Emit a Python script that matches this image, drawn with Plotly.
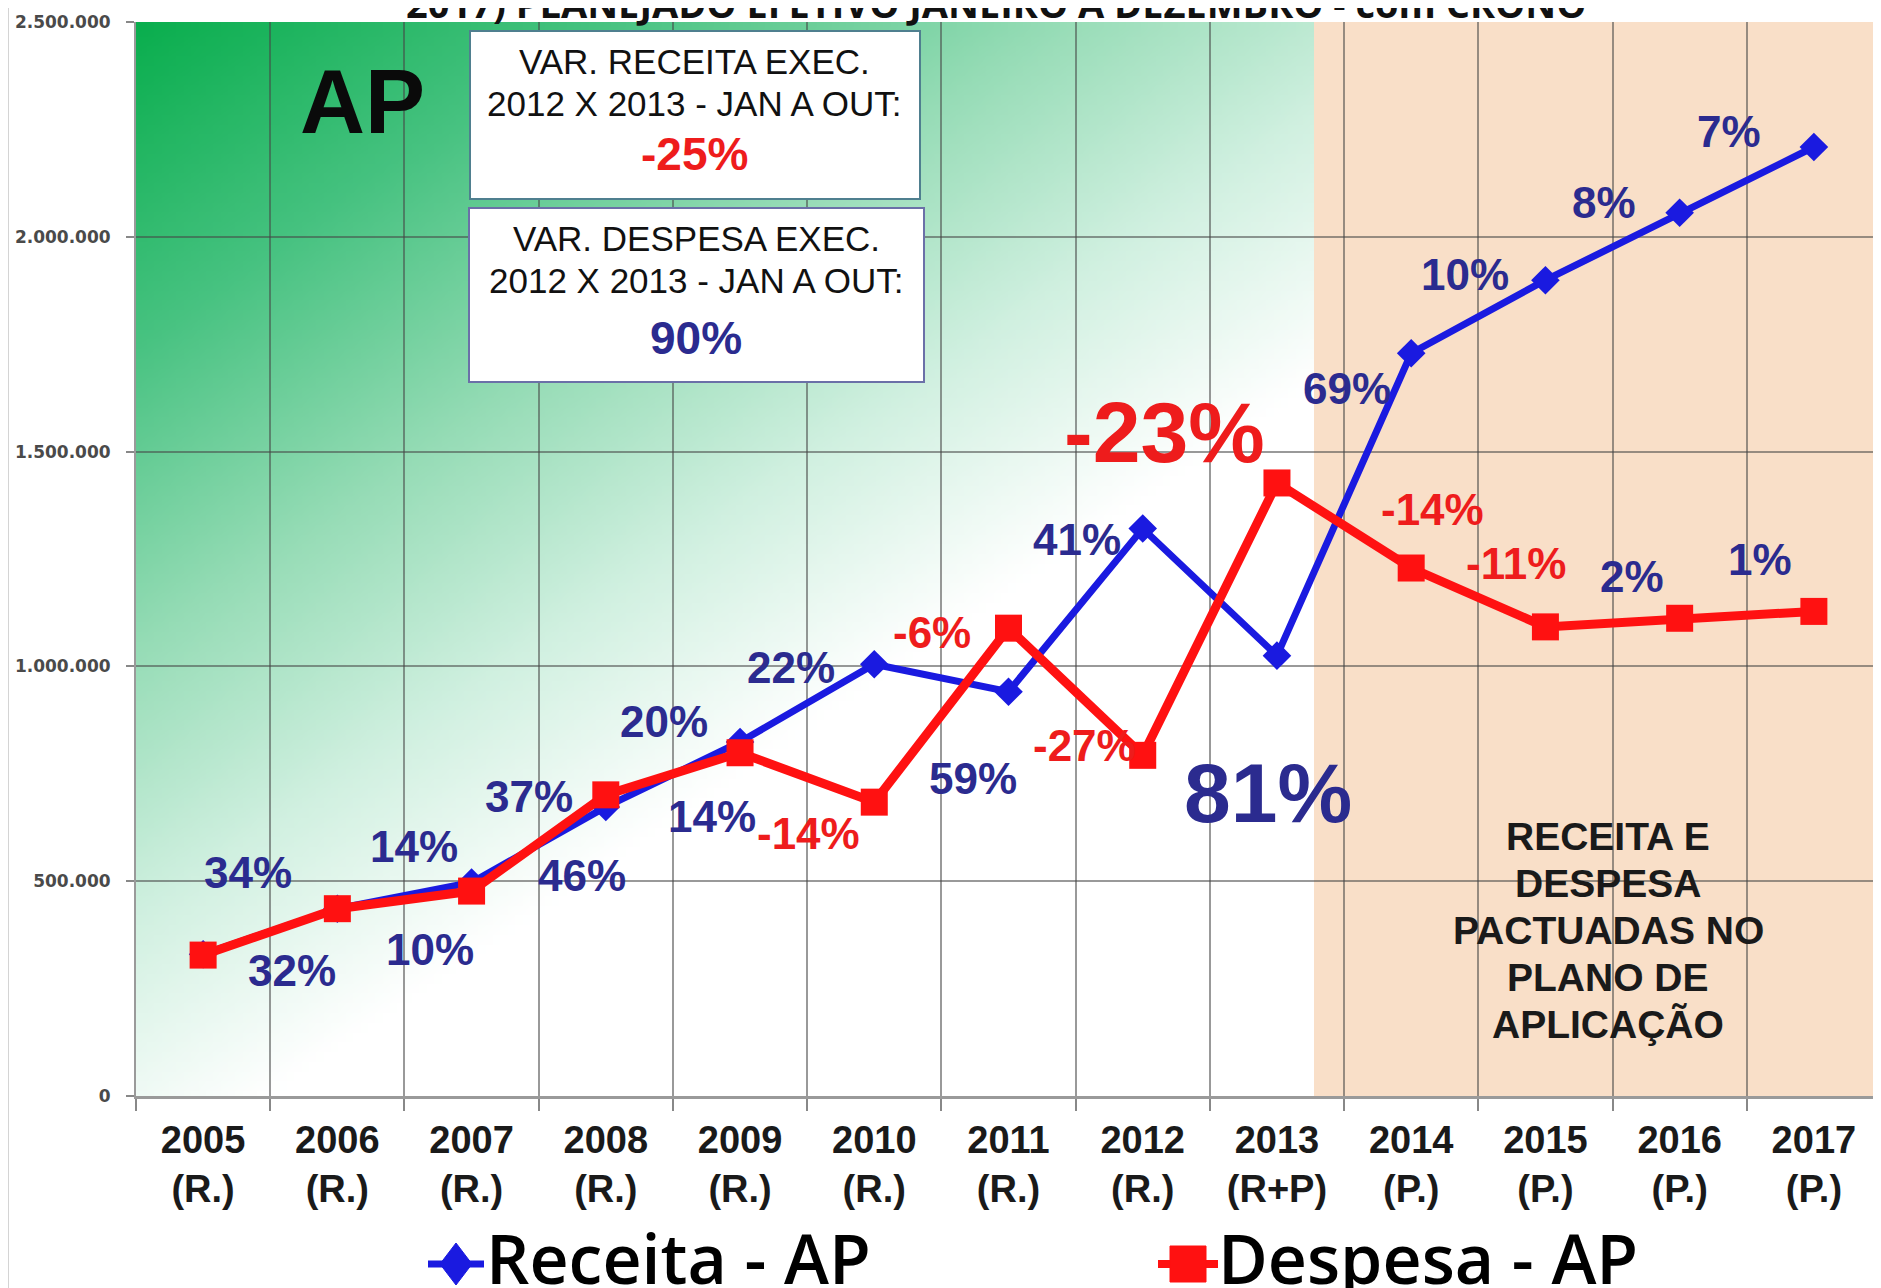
import zlib, struct, base64
import plotly.graph_objects as go

# ---------------- data ----------------
anos = ["2005", "2006", "2007", "2008", "2009", "2010", "2011", "2012", "2013", "2014", "2015", "2016", "2017"]
tipo = ["(R.)", "(R.)", "(R.)", "(R.)", "(R.)", "(R.)", "(R.)", "(R.)", "(R+P)", "(P.)", "(P.)", "(P.)", "(P.)"]
receita = [330000, 436000, 497000, 673000, 824000, 1005000, 941000, 1321000, 1025000, 1729000, 1899000, 2056000, 2209000]
despesa = [328000, 436000, 477000, 701000, 799000, 684000, 1089000, 793000, 1427000, 1229000, 1092000, 1112000, 1128000]
y_ticks = [0, 500000, 1000000, 1500000, 2000000, 2500000]
y_ticktext = ["0", "500.000", "1.000.000", "1.500.000", "2.000.000", "2.500.000"]

var_labels = ["34%", "32%", "14%", "10%", "37%", "46%", "20%", "14%", "22%", "-14%", "-6%", "59%",
              "41%", "-27%", "-23%", "81%", "69%", "-14%", "10%", "-11%", "8%", "2%", "7%", "1%"]

titulo = "2017) PLANEJADO EFETIVO JANEIRO A DEZEMBRO - com CRONO"
box1_lines = ["VAR. RECEITA EXEC.", "2012 X 2013 - JAN A OUT:", "-25%"]
box2_lines = ["VAR. DESPESA EXEC.", "2012 X 2013 - JAN A OUT:", "90%"]
nota_plano = ["RECEITA E", "DESPESA", "PACTUADAS NO", "PLANO DE", "APLICAÇÃO"]
leg_names = ["Receita - AP", "Despesa - AP"]

# ---------------- styling / layout helpers ----------------
# the page body has an 8px margin; the figure is sized so its plot area lands at
# page pixels x 136..1881, y 22..1096
OFF = 8
W, H = 1881 - OFF, 1288 - OFF
L, R_, T, B = 136 - OFF, 0, 22 - OFF, 192
PW, PH = W - L - R_, H - T - B
X0, Y1 = 136, 22 + PH


def px(xp):  # page pixel -> paper
    return (xp - X0) / PW


def py(yp):
    return (Y1 - yp) / PH


BLUE = "#1a1ae0"
RED = "#ff1111"
NAVY = "#2b2b8f"
LRED = "#ee1c1c"

# label positions (page pixels), colours, sizes  -- styling only
lab_pos = [(248, 872), (292, 970), (414, 847), (430, 949), (529, 796), (582, 875), (664, 721),
           (712, 816), (791, 667), (808, 833), (932, 632), (973, 778), (1077, 539), (1084, 745),
           (1164, 432), (1268, 793), (1347, 388), (1432, 510), (1465, 275), (1516, 563),
           (1604, 202), (1632, 577), (1729, 132), (1760, 559)]
lab_col = [NAVY, NAVY, NAVY, NAVY, NAVY, NAVY, NAVY, NAVY, NAVY, LRED, LRED, NAVY,
           NAVY, LRED, LRED, NAVY, NAVY, LRED, NAVY, LRED, NAVY, NAVY, NAVY, NAVY]
lab_size = [44] * 24
lab_size[14] = 86
lab_size[15] = 84


# ---------------- gradient background image ----------------
def make_png(w, h, fn):
    raw = bytearray()
    for j in range(h):
        raw.append(0)
        for i in range(w):
            raw.extend(fn(i / (w - 1), j / (h - 1)))

    def chunk(t, d):
        c = struct.pack(">I", len(d)) + t + d
        return c + struct.pack(">I", zlib.crc32(t + d) & 0xffffffff)

    png = (b"\x89PNG\r\n\x1a\n" + chunk(b"IHDR", struct.pack(">IIBBBBB", w, h, 8, 2, 0, 0, 0))
           + chunk(b"IDAT", zlib.compress(bytes(raw), 9)) + chunk(b"IEND", b""))
    return "data:image/png;base64," + base64.b64encode(png).decode()


stops = [(0.0, (10, 174, 78)), (0.35, (70, 194, 128)), (0.7, (150, 220, 182)),
         (1.0, (208, 240, 224)), (1.3, (255, 255, 255))]


def grad(u, v):
    t = 0.9 * u + 1.2 * v
    if t >= stops[-1][0]:
        return bytes(stops[-1][1])
    for (t0, c0), (t1, c1) in zip(stops[:-1], stops[1:]):
        if t0 <= t <= t1:
            f = (t - t0) / (t1 - t0)
            return bytes(int(round(a + (b - a) * f)) for a, b in zip(c0, c1))
    return bytes(stops[0][1])


img = make_png(160, 110, grad)

# ---------------- figure ----------------
cats = [f"{a}<br>{t}" for a, t in zip(anos, tipo)]

fig = go.Figure()
fig.add_trace(go.Scatter(x=cats, y=receita, mode="lines+markers", name=leg_names[0],
                         line=dict(color=BLUE, width=7),
                         marker=dict(symbol="diamond", size=22, color=BLUE)))
fig.add_trace(go.Scatter(x=cats, y=despesa, mode="lines+markers", name=leg_names[1],
                         line=dict(color=RED, width=9),
                         marker=dict(symbol="square", size=27, color=RED)))

green_right = 1314
LEG_Y = 1264
shapes = [
    dict(type="rect", xref="paper", yref="paper", x0=px(green_right), x1=1, y0=0, y1=1,
         fillcolor="#f9dfc8", line=dict(width=0), layer="below"),
    # slide border
    dict(type="line", xref="paper", yref="paper", x0=px(8), x1=px(8), y0=py(1288), y1=py(0),
         line=dict(color="#d4d4d4", width=2)),
    # boxes
    dict(type="rect", xref="paper", yref="paper", x0=px(470), x1=px(920), y0=py(199), y1=py(31),
         fillcolor="white", line=dict(color="#4f7f8f", width=2), layer="above"),
    dict(type="rect", xref="paper", yref="paper", x0=px(469), x1=px(924), y0=py(382), y1=py(208),
         fillcolor="white", line=dict(color="#6b70a8", width=2), layer="above"),
    # legend symbols
    dict(type="line", xref="paper", yref="paper", x0=px(428), x1=px(484), y0=py(LEG_Y), y1=py(LEG_Y),
         line=dict(color=BLUE, width=7)),
    dict(type="path", xref="paper", yref="paper",
         path=f"M {px(456)} {py(LEG_Y - 21)} L {px(472)} {py(LEG_Y)} L {px(456)} {py(LEG_Y + 21)} L {px(440)} {py(LEG_Y)} Z",
         fillcolor=BLUE, line=dict(color=BLUE, width=1)),
    dict(type="line", xref="paper", yref="paper", x0=px(1158), x1=px(1218), y0=py(LEG_Y), y1=py(LEG_Y),
         line=dict(color=RED, width=8)),
    dict(type="rect", xref="paper", yref="paper", x0=px(1170), x1=px(1206), y0=py(LEG_Y + 18), y1=py(LEG_Y - 18),
         fillcolor=RED, line=dict(color=RED, width=1)),
]

ann = []
LAB_FONT = "Liberation Sans, Arial, sans-serif"
for txt, (xx, yy), col, sz in zip(var_labels, lab_pos, lab_col, lab_size):
    ann.append(dict(text=txt, x=px(xx), y=py(yy), xref="paper", yref="paper", showarrow=False,
                    xanchor="center", yanchor="middle",
                    font=dict(family=LAB_FONT, size=sz, color=col, weight="bold")))

box_y1 = [62, 103, 154]
box_y2 = [239, 280, 338]
for i, (t1, t2) in enumerate(zip(box1_lines, box2_lines)):
    big = i == 2
    f1 = dict(family=LAB_FONT, size=46, color=LRED, weight="bold") if big else \
        dict(family=LAB_FONT, size=35, color="#111111")
    f2 = dict(family=LAB_FONT, size=46, color=NAVY, weight="bold") if big else \
        dict(family=LAB_FONT, size=35, color="#111111")
    ann.append(dict(text=t1, x=px(694), y=py(box_y1[i]), xref="paper", yref="paper", showarrow=False,
                    xanchor="center", yanchor="middle", font=f1))
    ann.append(dict(text=t2, x=px(696), y=py(box_y2[i]), xref="paper", yref="paper", showarrow=False,
                    xanchor="center", yanchor="middle", font=f2))

ann.append(dict(text="AP", x=px(362), y=py(102), xref="paper", yref="paper", showarrow=False,
                xanchor="center", yanchor="middle",
                font=dict(family=LAB_FONT, size=90, color="#0a0a0a", weight="bold")))
for k, line in enumerate(nota_plano):
    ann.append(dict(text=line, x=px(1608), y=py(836 + 47 * k), xref="paper", yref="paper", showarrow=False,
                    xanchor="center", yanchor="middle",
                    font=dict(family=LAB_FONT, size=39, color="#1a1a1a", weight="bold")))
ann.append(dict(text=titulo, x=px(996), y=py(31), xref="paper", yref="paper", showarrow=False,
                xanchor="center", yanchor="bottom",
                font=dict(family="Open Sans, sans-serif", size=38, color="#111", weight="bold")))
# legend texts
ann.append(dict(text=leg_names[0], x=px(484), y=py(1306), xref="paper", yref="paper", showarrow=False,
                xanchor="left", yanchor="bottom",
                font=dict(family="Open Sans, sans-serif", size=68, color="#000", weight=600)))
ann.append(dict(text=leg_names[1], x=px(1216), y=py(1306), xref="paper", yref="paper", showarrow=False,
                xanchor="left", yanchor="bottom",
                font=dict(family="Open Sans, sans-serif", size=68, color="#000", weight=600)))

GRID = "rgba(70,70,70,0.55)"
fig.update_layout(
    width=W, height=H,
    margin=dict(l=L, r=R_, t=T, b=B, autoexpand=False),
    paper_bgcolor="white", plot_bgcolor="white",
    showlegend=False,
    shapes=shapes, annotations=ann,
    images=[dict(source=img, xref="paper", yref="paper", x=0, y=1, sizex=px(green_right), sizey=1,
                 xanchor="left", yanchor="top", sizing="stretch", layer="below")],
    xaxis=dict(type="category", categoryorder="array", categoryarray=cats, range=[-0.5, 12.5],
               tickson="boundaries", showgrid=True, gridcolor=GRID, gridwidth=1.5,
               ticks="outside", ticklen=12, tickcolor="#888", tickwidth=1.5,
               showline=True, linecolor="#9a9a9a", linewidth=3,
               tickfont=dict(family=LAB_FONT, size=38, color="#1a1a1a", weight="bold"),
               ticklabelstandoff=8, fixedrange=True),
    yaxis=dict(range=[0, 2500000], tickvals=y_ticks, ticktext=y_ticktext,
               showgrid=True, gridcolor=GRID, gridwidth=1.5, zeroline=False,
               ticks="outside", ticklen=8, tickcolor="#888", tickwidth=1.5,
               showline=True, linecolor="#9a9a9a", linewidth=2,
               tickfont=dict(family="DejaVu Sans, sans-serif", size=17, color="#4a4a4a", weight="bold"),
               ticklabelstandoff=12, fixedrange=True),
)

fig.write_html("out.html")
